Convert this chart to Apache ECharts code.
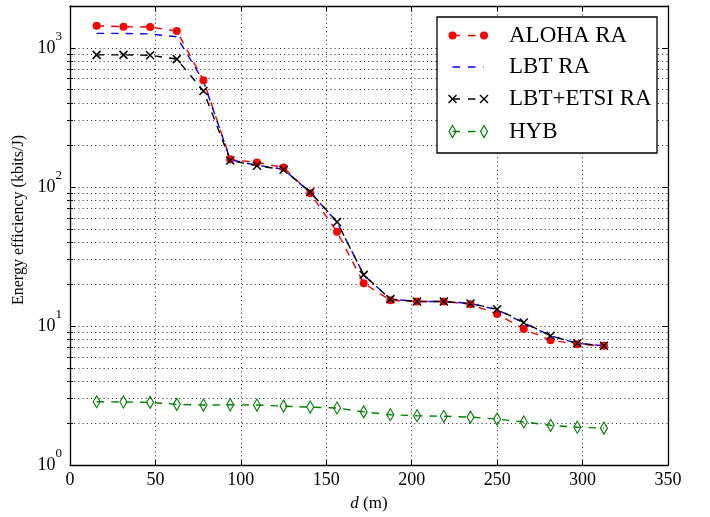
<!DOCTYPE html>
<html><head><meta charset="utf-8">
<script src="https://cdn.jsdelivr.net/npm/echarts@6/dist/echarts.min.js"></script>
<style>html,body{margin:0;padding:0;background:#fff}#c{width:710px;height:517px}</style>
</head><body><div id="c"></div>
<script>
// ---- data ----
const distances = [15.6, 31.3, 46.9, 62.5, 78.1, 93.8, 109.4, 125, 140.6, 156.3, 171.9, 187.5, 203.1, 218.8, 234.4, 250, 265.6, 281.3, 296.9, 312.5];
const alohaRA   = [1440, 1420, 1410, 1320, 585, 158, 150, 138, 90, 47.5, 20.3, 15.3, 15.0, 15.0, 14.3, 12.2, 9.5, 7.9, 7.4, 7.2];
const lbtRA     = [1270, 1270, 1260, 1200, 575, 157, 143, 134, 91, 56, 23.3, 15.6, 15.0, 15.0, 14.5, 13.1, 10.5, 8.5, 7.5, 7.2];
const lbtEtsiRA = [890, 890, 885, 830, 490, 155, 142, 133, 92, 56, 23.3, 15.6, 15.0, 15.0, 14.5, 13.2, 10.6, 8.5, 7.5, 7.2];
const hyb       = [2.85, 2.84, 2.82, 2.73, 2.70, 2.71, 2.70, 2.65, 2.61, 2.57, 2.41, 2.30, 2.26, 2.24, 2.21, 2.14, 2.04, 1.93, 1.87, 1.84];
const seriesNames = ['ALOHA RA', 'LBT RA', 'LBT+ETSI RA', 'HYB'];
const yMinorTicks = [2,3,4,5,6,7,8,9,20,30,40,50,60,70,80,90,200,300,400,500,600,700,800,900];
const xLabelName = 'd';
const yLabelName = 'Energy efficiency (kbits/J)';

// ---- styling ----
const FONT = 'Liberation Serif';
const DASH = [7.5, 7];
const LW = 1.4;
const dotted = {color: '#222', width: 1, type: [1, 3.2]};
const colors = ['#ff0000', '#0000ff', '#000000', '#008000'];
const crossPath = 'path://M0,0L10,10M10,0L0,10';
const diamondPath = 'path://M5,0L10,9L5,18L0,9Z';

const pair = arr => distances.map((d, i) => [d, arr[i]]);

const xBase = {type: 'value', min: 0, max: 350, interval: 50};
const yBase = {type: 'log', logBase: 10, min: 1, max: 2000};
const axLine = {show: true, onZero: false, lineStyle: {color: '#000', width: 1.3}};

const yFormatter = v => {
  const e = Math.round(Math.log10(v));
  return Math.abs(v - Math.pow(10, e)) < 1e-6 * v ? '{b|10}{s|' + e + '}' : '';
};

const option = {
  animation: false,
  backgroundColor: '#fff',
  grid: {left: 70, right: 42, top: 6, bottom: 47.5, containLabel: false},
  xAxis: [
    Object.assign({}, xBase, {
      position: 'bottom',
      axisLine: axLine,
      axisTick: {inside: true, length: 5.5, lineStyle: {color: '#000', width: 1}},
      axisLabel: {fontFamily: FONT, fontSize: 18, color: '#000', margin: 6},
      splitLine: {show: true, lineStyle: dotted},
      name: '{i|' + xLabelName + '} (m)',
      nameLocation: 'middle', nameGap: 30,
      nameTextStyle: {fontFamily: FONT, fontSize: 17, color: '#000',
        rich: {i: {fontFamily: FONT, fontSize: 17, fontStyle: 'italic', color: '#000'}}}
    }),
    Object.assign({}, xBase, {
      position: 'top',
      axisLine: axLine,
      axisTick: {inside: true, length: 5.5, lineStyle: {color: '#000', width: 1}},
      axisLabel: {show: false},
      splitLine: {show: false}
    })
  ],
  yAxis: [
    Object.assign({}, yBase, {
      position: 'left',
      axisLine: axLine,
      axisTick: {inside: true, length: 5.5, lineStyle: {color: '#000', width: 1}},
      axisLabel: {formatter: yFormatter, margin: 8, color: '#000',
        rich: {
          b: {fontFamily: FONT, fontSize: 18, lineHeight: 36, color: '#000'},
          s: {fontFamily: FONT, fontSize: 13, lineHeight: 13, padding: [0, 0, 23, 0], verticalAlign: 'top', color: '#000'}
        }},
      splitLine: {show: true, lineStyle: dotted},
      name: yLabelName, nameLocation: 'middle', nameGap: 41,
      nameTextStyle: {fontFamily: FONT, fontSize: 16, color: '#000', padding: [0, 0, 0, 31]}
    }),
    Object.assign({}, yBase, {
      position: 'left',
      axisLine: {show: false},
      axisTick: {inside: true, length: 3, customValues: yMinorTicks, lineStyle: {color: '#000', width: 1}},
      axisLabel: {show: false},
      splitLine: {show: true, lineStyle: dotted}
    }),
    Object.assign({}, yBase, {
      position: 'right',
      axisLine: axLine,
      axisTick: {inside: true, length: 5.5, lineStyle: {color: '#000', width: 1}},
      axisLabel: {show: false},
      splitLine: {show: false}
    }),
    Object.assign({}, yBase, {
      position: 'right',
      axisLine: {show: false},
      axisTick: {inside: true, length: 3, customValues: yMinorTicks, lineStyle: {color: '#000', width: 1}},
      axisLabel: {show: false},
      splitLine: {show: false}
    })
  ],
  series: [
    {name: seriesNames[0], type: 'line', data: pair(alohaRA), symbol: 'circle', symbolSize: 8,
      itemStyle: {color: colors[0], borderWidth: 0},
      lineStyle: {color: colors[0], width: LW, type: DASH}},
    {name: seriesNames[1], type: 'line', data: pair(lbtRA), symbol: 'none', showSymbol: false,
      itemStyle: {color: colors[1]},
      lineStyle: {color: colors[1], width: LW, type: DASH}},
    {name: seriesNames[2], type: 'line', data: pair(lbtEtsiRA), symbol: crossPath, symbolSize: 8,
      itemStyle: {color: 'none', borderColor: colors[2], borderWidth: 1.5},
      lineStyle: {color: colors[2], width: LW, type: DASH}},
    {name: seriesNames[3], type: 'line', data: pair(hyb), symbol: diamondPath, symbolSize: [7, 12],
      itemStyle: {color: 'none', borderColor: colors[3], borderWidth: 1.2},
      lineStyle: {color: colors[3], width: LW, type: DASH}}
  ]
};

// ---- legend drawn as graphic (line-marker-line-marker style) ----
const legendYs = [35.5, 67, 99, 131.5];
const mx1 = 452.5, mx2 = 484;
const g = [{type: 'rect', z: 100, shape: {x: 437, y: 17, width: 220, height: 136},
  style: {fill: '#fff', stroke: '#000', lineWidth: 1.3}}];
function marker(kind, cx, cy, color) {
  if (kind === 'circle') return [{type: 'circle', z: 102, shape: {cx, cy, r: 4}, style: {fill: color}}];
  if (kind === 'cross') return [
    {type: 'line', z: 102, shape: {x1: cx - 4, y1: cy - 4, x2: cx + 4, y2: cy + 4}, style: {stroke: color, lineWidth: 1.5}},
    {type: 'line', z: 102, shape: {x1: cx - 4, y1: cy + 4, x2: cx + 4, y2: cy - 4}, style: {stroke: color, lineWidth: 1.5}}];
  if (kind === 'diamond') return [{type: 'polygon', z: 102,
    shape: {points: [[cx, cy - 6], [cx + 3.5, cy], [cx, cy + 6], [cx - 3.5, cy]]},
    style: {fill: 'none', stroke: color, lineWidth: 1.2}}];
  return [];
}
const kinds = ['circle', 'none', 'cross', 'diamond'];
seriesNames.forEach((n, i) => {
  const y = legendYs[i];
  g.push({type: 'line', z: 101, shape: {x1: mx1, y1: y, x2: mx2, y2: y},
    style: {stroke: colors[i], lineWidth: LW, lineDash: [7.5, 8]}});
  marker(kinds[i], mx1, y, colors[i]).forEach(e => g.push(e));
  marker(kinds[i], mx2, y, colors[i]).forEach(e => g.push(e));
  g.push({type: 'text', z: 102, x: 509, y: y,
    style: {text: n, fontFamily: FONT, fontSize: 23, fill: '#000', verticalAlign: 'middle', align: 'left'}});
});
option.graphic = g;

const chart = echarts.init(document.getElementById('c'), null, {renderer: 'canvas'});
chart.setOption(option);
</script>
</body></html>
